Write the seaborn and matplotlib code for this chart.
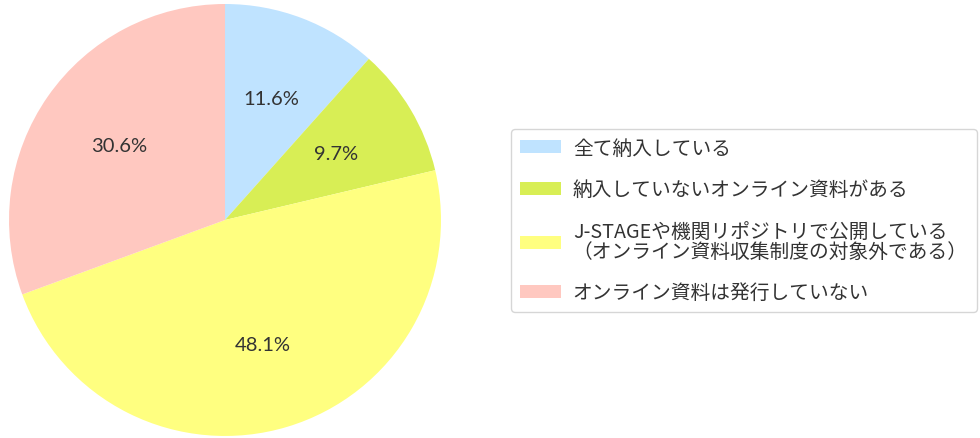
import matplotlib
matplotlib.use('Agg')
import matplotlib.pyplot as plt
import seaborn as sns

sns.set_theme(style='white')
plt.rcParams['font.family'] = ['Noto Sans CJK JP', 'DejaVu Sans']

# Data
labels = ['全て納入している',
          '納入していないオンライン資料がある',
          'J-STAGEや機関リポジトリで公開している\n（オンライン資料収集制度の対象外である）',
          'オンライン資料は発行していない']
values = [11.6, 9.7, 48.1, 30.6]
colors = ['#BFE3FF', '#D8EE55', '#FFFF80', '#FFC8C0']

fig = plt.figure(figsize=(9.8, 4.39), dpi=100)
ax = fig.add_axes([0.0092, 0.0046, 0.4408, 0.984])

wedges, texts, autotexts = ax.pie(
    values,
    colors=colors,
    startangle=90,
    counterclock=False,
    autopct='%.1f%%',
    pctdistance=0.6,
    wedgeprops=dict(linewidth=0),
    textprops=dict(color='#333333', fontsize=14.5, family=['Lato', 'DejaVu Sans'])
)
ax.set_aspect('equal')
ax.set_xlim(-1, 1)
ax.set_ylim(-1, 1)

leg = fig.legend(
    wedges, labels,
    loc='center left',
    bbox_to_anchor=(0.511, 0.4955),
    fontsize=14.2,
    handlelength=2.1,
    handleheight=0.65,
    handletextpad=0.6,
    labelspacing=1.05,
    borderpad=0.45,
    frameon=True,
    fancybox=True,
    edgecolor='#cccccc',
)
for t in leg.get_texts():
    t.set_color('#333333')
    t.set_linespacing(0.9)

fig.savefig('out.png', dpi=100)
